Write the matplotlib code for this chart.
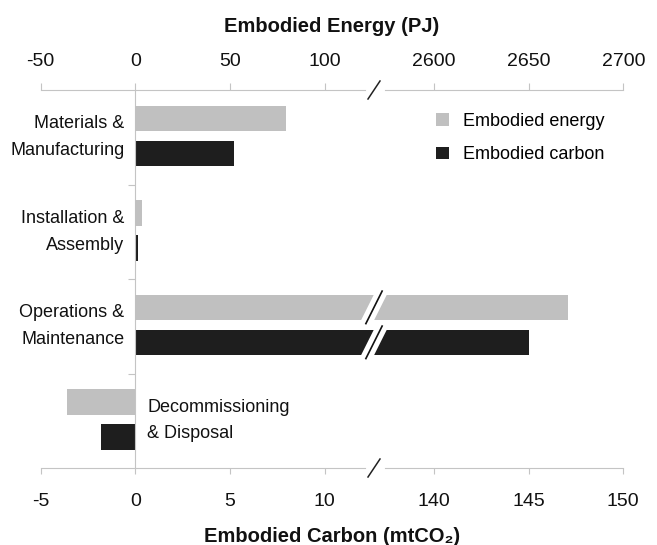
"""
Embodied energy / embodied carbon by life-cycle stage, with a broken x axis.
"""

import matplotlib
matplotlib.use("Agg")

import matplotlib.pyplot as plt
import numpy as np
from matplotlib.lines import Line2D
from matplotlib.patches import Patch, Polygon
from matplotlib.transforms import IdentityTransform

plt.rcParams["font.family"] = ["Liberation Sans", "DejaVu Sans"]
plt.rcParams["axes.unicode_minus"] = False

# ---- data -------------------------------------------------------------
categories = [
    "Materials &\nManufacturing",
    "Installation &\nAssembly",
    "Operations &\nMaintenance",
    "Decommissioning\n& Disposal",
]
energy_pj = [79.4, 3.4, 2671.0, -35.8]
carbon_mt = [5.2, 0.13, 145.0, -1.8]

energy_ticks_left = [-50, 0, 50, 100]
energy_ticks_right = [2600, 2650, 2700]
carbon_ticks_left = [-5, 0, 5, 10]
carbon_ticks_right = [140, 145, 150]

# ---- style ------------------------------------------------------------
GREY = "#c0c0c0"
BLACK = "#1e1e1e"
SPINE = "#c4c4c4"
TEXT = "#111111"

W, H = 657, 545
fig = plt.figure(figsize=(W / 100, H / 100), dpi=100)

# layout in pixels measured from the top-left corner
ppu = 18.95            # pixels per mtCO2
epu = ppu / 10         # pixels per PJ
x_zero = 135.3
x_end = 623.3          # position of 150 mtCO2 / 2700 PJ
y_top, y_bot = 90, 468
left_x0 = x_zero - 5 * ppu
left_x1 = 385          # left panel drawing area reaches into the gap
right_x0 = 362         # right panel starts inside the gap
gap_lo, gap_hi = 365, 385


def fx(px):
    return px / W


def fy(py):
    return 1 - py / H


carbon_left = (-5, (left_x1 - x_zero) / ppu)
carbon_right = (150 - (x_end - right_x0) / ppu, 150)
energy_left = (-50, (left_x1 - x_zero) / epu)
energy_right = (2700 - (x_end - right_x0) / epu, 2700)

cbound_left = (-5, (gap_lo - x_zero) / ppu)
cbound_right = (150 - (x_end - gap_hi) / ppu, 150)
ebound_left = (-50, (gap_lo - x_zero) / epu)
ebound_right = (2700 - (x_end - gap_hi) / epu, 2700)

ax_h = (y_bot - y_top) / H
axL = fig.add_axes([fx(left_x0), fy(y_bot), fx(left_x1 - left_x0), ax_h])
axR = fig.add_axes([fx(right_x0), fy(y_bot), fx(x_end - right_x0), ax_h])

y = np.arange(len(categories))
bar_h = 0.27

panels = [
    (axL, carbon_left, energy_left, cbound_left, ebound_left,
     carbon_ticks_left, energy_ticks_left),
    (axR, carbon_right, energy_right, cbound_right, ebound_right,
     carbon_ticks_right, energy_ticks_right),
]
for ax, clim, elim, cb, eb, cticks, eticks in panels:
    ax.patch.set_visible(False)
    top = ax.twiny()

    ax.barh(y + 0.17, carbon_mt, height=bar_h, color=BLACK, linewidth=0)
    top.barh(y - 0.2, energy_pj, height=bar_h, color=GREY, linewidth=0)

    ax.set_xlim(*clim)
    top.set_xlim(*elim)
    ax.set_ylim(len(categories) - 0.5, -0.5)

    ax.set_xticks(cticks)
    top.set_xticks(eticks)

    for s in ("top", "right"):
        ax.spines[s].set_visible(False)
    for s in ("bottom", "left", "right"):
        top.spines[s].set_visible(False)
    ax.spines["bottom"].set_bounds(*cb)
    top.spines["top"].set_bounds(*eb)
    for sp in (ax.spines["bottom"], top.spines["top"]):
        sp.set_color(SPINE)
        sp.set_linewidth(0.8)

    ax.tick_params(axis="x", direction="out", length=4.5, width=0.8,
                   color=SPINE, labelsize=14, pad=13.5, labelcolor=TEXT)
    top.tick_params(axis="x", direction="out", length=4.8, width=0.8,
                    color=SPINE, labelsize=14, pad=9.5, labelcolor=TEXT)

# zero line with category separators
axL.spines["left"].set_position(("data", 0))
axL.spines["left"].set_color(SPINE)
axL.spines["left"].set_linewidth(0.8)
axL.set_yticks([0.5, 1.5, 2.5])
axL.set_yticklabels([])
axL.tick_params(axis="y", direction="out", length=5, width=0.8, color=SPINE)
axR.spines["left"].set_visible(False)
axR.tick_params(axis="y", left=False, labelleft=False)

# category labels
for i, label in enumerate(categories):
    if carbon_mt[i] < 0:
        axL.annotate(label, xy=(0, i), xytext=(12, 0), textcoords="offset pixels",
                     ha="left", va="center", fontsize=13, linespacing=1.72,
                     color=TEXT)
    else:
        axL.annotate(label, xy=(0, i), xytext=(-11, 0), textcoords="offset pixels",
                     ha="right", va="center", multialignment="right",
                     fontsize=13, linespacing=1.75, color=TEXT)

# axis titles
fig.text(fx(332), fy(31.5), "Embodied Energy (PJ)", ha="center", va="baseline",
         fontsize=14.5, fontweight="bold", color=TEXT)
fig.text(fx(332), fy(542), "Embodied Carbon (mtCO\u2082)", ha="center",
         va="baseline", fontsize=14.5, fontweight="bold", color=TEXT)

# legend
handles = [Patch(facecolor=GREY, label="Embodied energy"),
           Patch(facecolor=BLACK, label="Embodied carbon")]
fig.legend(handles=handles, loc="upper left", bbox_to_anchor=(fx(436), fy(113)),
           frameon=False, borderpad=0, borderaxespad=0, handlelength=0.72,
           handleheight=0.72, handletextpad=0.75, labelspacing=0.9,
           fontsize=13)

# axis break marks
ident = IdentityTransform()
x_break = 374
for yc in (y_top, y_bot):
    yd = H - yc
    fig.add_artist(Line2D([x_break - 6, x_break + 6], [yd - 9, yd + 9],
                          transform=ident, color="#222222", lw=1.1))

# bar break marks on the long bars
big = int(np.argmax(carbon_mt))
for ax, yc in ((axL, big - 0.2), (axL, big + 0.17)):
    _, y0 = ax.transData.transform((0, yc + bar_h / 2))
    _, y1 = ax.transData.transform((0, yc - bar_h / 2))
    ym = (y0 + y1) / 2
    lo, hi = min(y0, y1) - 1, max(y0, y1) + 1

    def xc(yy):
        return x_break + 0.5 * (yy - ym)

    band = Polygon([(xc(lo) - 6.5, lo), (xc(lo) + 6.5, lo),
                    (xc(hi) + 6.5, hi), (xc(hi) - 6.5, hi)],
                   closed=True, transform=ident, facecolor="white",
                   edgecolor="none")
    fig.add_artist(band)
    fig.add_artist(Line2D([xc(lo - 2.5), xc(hi + 2.5)], [lo - 2.5, hi + 2.5],
                          transform=ident, color=TEXT, lw=1.2))

fig.savefig("out.png", dpi=100)
